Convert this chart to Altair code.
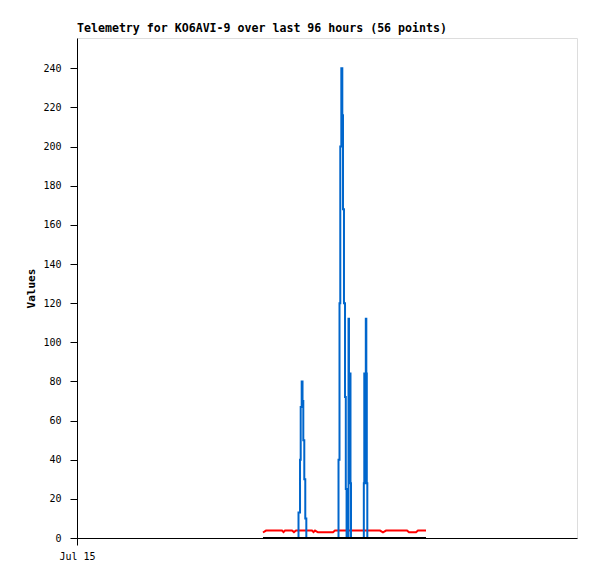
import altair as alt
import pandas as pd

# hours since Jul 15 00:00
blue_hours = [35.71, 42.53, 42.82, 42.95, 43.14, 43.30, 43.45, 43.64, 43.83, 44.03,
              50.21, 50.40, 50.55, 50.75, 50.94, 51.07, 51.26, 51.46, 51.61, 51.76,
              52.13, 52.22, 52.32, 52.42, 52.51, 52.61,
              55.07, 55.16, 55.26, 55.35, 55.45, 55.55, 55.64, 55.74, 67.01]
blue_values = [0, 13, 40, 67, 80, 70, 50, 30, 10, 0,
               40, 120, 200, 240, 216, 168, 120, 72, 25, 0,
               112, 84, 28, 84, 28, 0,
               28, 84, 28, 84, 112, 84, 28, 0, 0]

red_hours = [35.71, 36.29, 39.36, 39.65, 39.94, 41.28, 41.66, 42.05, 45.12, 45.41,
             45.70, 46.27, 49.15, 49.54, 58.18, 58.75, 59.33, 63.36, 63.74, 65.09,
             65.47, 67.01]
red_values = [2.8, 3.8, 3.8, 3.0, 3.8, 3.8, 3.0, 3.8, 3.8, 3.0,
              3.8, 2.9, 2.9, 3.8, 3.8, 2.9, 3.8, 3.8, 2.9, 2.9,
              3.8, 3.8]

black_hours = [35.71, 67.01]
black_values = [0, 0]

y_ticks = list(range(0, 241, 20))
x_domain = [0, 96]
y_domain = [0, 255.5]

FONT = "DejaVu Sans Mono"

blue_df = pd.DataFrame({"h": blue_hours, "v": blue_values})
red_df = pd.DataFrame({"h": red_hours, "v": red_values})
black_df = pd.DataFrame({"h": black_hours, "v": black_values})

x_enc = alt.X("h:Q", scale=alt.Scale(domain=x_domain, nice=False, zero=False),
              axis=alt.Axis(values=[0], labelExpr="'Jul 15'", title=None, grid=False,
                            tickSize=7, labelPadding=6, domainColor="black", tickColor="black",
                            labelFont=FONT, labelFontSize=10, labelColor="black",
                            labelAlign="center"))
y_enc = alt.Y("v:Q", scale=alt.Scale(domain=y_domain, nice=False),
              axis=alt.Axis(values=y_ticks, title="Values", grid=False, tickSize=7,
                            labelPadding=9, titlePadding=6, domainColor="black",
                            tickColor="black", labelFont=FONT, labelFontSize=10,
                            labelColor="black", titleFont=FONT, titleFontSize=11,
                            titleFontWeight="bold", titleColor="black"))

red = alt.Chart(red_df).mark_line(color="#ff0000", strokeWidth=2, clip=True).encode(x=x_enc, y=y_enc)
blue = alt.Chart(blue_df).mark_line(color="#0066cc", strokeWidth=2, interpolate="step-after",
                                     clip=True).encode(x=x_enc, y=y_enc)
black = alt.Chart(black_df).mark_line(color="black", strokeWidth=2, clip=True).encode(x=x_enc, y=y_enc)

chart = alt.layer(red, blue, black).properties(
    width=500, height=500,
    title=alt.TitleParams("Telemetry for KO6AVI-9 over last 96 hours (56 points)",
                          anchor="start", frame="group", font=FONT, fontSize=11.6,
                          fontWeight="bold", color="black", offset=3),
    autosize=alt.AutoSizeParams(type="none"),
    padding={"left": 69, "top": 30, "right": 12, "bottom": 33},
).configure_view(stroke="#333333", strokeWidth=1).configure(background="white")

chart.save("out.html", embed_options={"renderer": "svg", "actions": False})
